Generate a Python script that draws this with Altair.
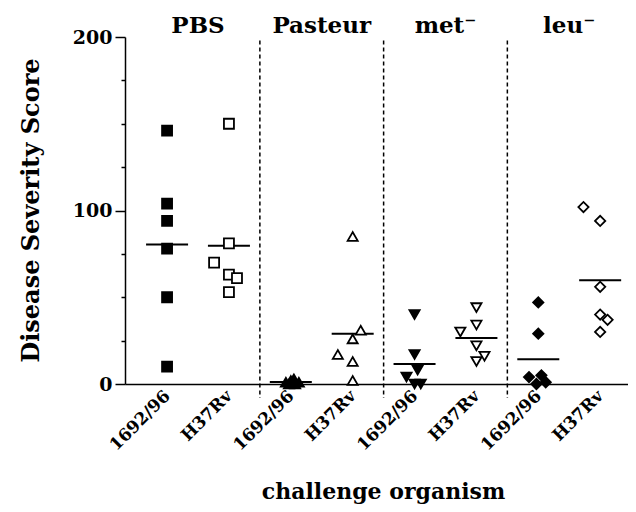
import json
import altair as alt
import pandas as pd

# ---- data ----
groups = ["PBS", "Pasteur", "met\u207b", "leu\u207b"]
strains = ["1692/96", "H37Rv"]

pbs_1692 = [146, 104, 94, 78, 50, 10]
pbs_h37 = [150, 81, 70, 63, 61, 53]
pas_1692 = [1, 2, 3, 1, 0, 0]
pas_h37 = [85, 31, 26, 17, 13, 2]
met_1692 = [40, 17, 8, 4, 0, 0]
met_h37 = [44, 34, 30, 22, 16, 13]
leu_1692 = [47, 29, 4, 5, 1, 0]
leu_h37 = [102, 94, 56, 40, 37, 30]

# horizontal scatter (jitter) of each point, in category units
jit_pbs_1692 = [0, 0, 0, 0, 0, 0]
jit_pbs_h37 = [0, 0, -0.24, 0, 0.13, 0]
jit_pas_1692 = [-0.08, 0, 0.05, 0.13, -0.03, 0.07]
jit_pas_h37 = [0, 0.13, 0, -0.24, 0, 0]
jit_met_1692 = [0, 0, 0.05, -0.13, 0, 0.1]
jit_met_h37 = [0, 0, -0.26, 0, 0.13, 0]
jit_leu_1692 = [0, 0, -0.15, 0.05, 0.12, -0.03]
jit_leu_h37 = [-0.27, 0, 0, 0, 0.12, 0]

series = [
    (pbs_1692, jit_pbs_1692), (pbs_h37, jit_pbs_h37),
    (pas_1692, jit_pas_1692), (pas_h37, jit_pas_h37),
    (met_1692, jit_met_1692), (met_h37, jit_met_h37),
    (leu_1692, jit_leu_1692), (leu_h37, jit_leu_h37),
]

rows = []
for col, (vals, jit) in enumerate(series):
    g = groups[col // 2]
    s = strains[col % 2]
    for v, j in zip(vals, jit):
        rows.append({"col": col, "pos": col + j, "group": g, "strain": s, "value": v})
df = pd.DataFrame(rows)

sep_df = pd.DataFrame({"sep": [1.5, 3.5, 5.5]})
title_df = pd.DataFrame({"center": [0.5, 2.5, 4.5, 6.5], "label": groups})

FONT = "DejaVu Serif"

xscale = alt.Scale(domain=[-0.68, 7.45], nice=False, zero=False)
yscale = alt.Scale(domain=[0, 200], nice=False)

label_expr = f"{json.dumps(strains)}[datum.value % 2]"

x_axis = alt.Axis(
    values=list(range(8)), labelExpr=label_expr, labelAngle=-45,
    labelAlign="right", labelBaseline="middle", labelPadding=9,
    labelOverlap=False, labelBound=False, labelFlush=False,
    ticks=False, grid=False, domainColor="black", domainWidth=1.5,
    labelFont=FONT, labelFontWeight="bold", labelFontSize=17, labelColor="black",
    title="challenge organism", titleFont=FONT, titleFontWeight="bold",
    titleFontSize=22, titleColor="black", titleX=258, titleY=114,
    titleBaseline="alphabetic", titleAnchor="middle",
)
y_axis = alt.Axis(
    values=[0, 25, 50, 75, 100, 125, 150, 175, 200],
    labelExpr="datum.value % 100 === 0 ? datum.label : ''",
    tickSize={"condition": {"test": "datum.value % 100 === 0", "value": 10}, "value": 4},
    tickWidth=1.5, tickColor="black",
    grid=False, domainColor="black", domainWidth=1.5, labelPadding=3,
    labelFont=FONT, labelFontWeight="bold", labelFontSize=19, labelColor="black",
    title="Disease Severity Score", titleFont=FONT, titleFontWeight="bold",
    titleFontSize=24, titleColor="black", titleX=-82, titleY=173,
    titleAnchor="middle",
)

base = alt.Chart(df)

points = base.mark_point(filled=False, stroke="black", strokeWidth=1.8, opacity=1).encode(
    x=alt.X("pos:Q", scale=xscale, axis=x_axis),
    y=alt.Y("value:Q", scale=yscale, axis=y_axis),
    shape=alt.Shape("group:N", scale=alt.Scale(domain=groups,
                    range=["square", "triangle-up", "triangle-down", "diamond"]), legend=None),
    fill=alt.Fill("strain:N", scale=alt.Scale(domain=strains, range=["black", "white"]), legend=None),
    size=alt.Size("group:N", scale=alt.Scale(domain=groups, range=[100, 105, 105, 95]), legend=None),
)

means = base.mark_tick(orient="horizontal", color="black", size=42, thickness=2, opacity=1).transform_aggregate(
    mean_value="mean(value)", groupby=["col"]
).encode(
    x=alt.X("col:Q", scale=xscale),
    y=alt.Y("mean_value:Q", scale=yscale),
)

seps = alt.Chart(sep_df).mark_rule(color="black", strokeWidth=1.5, strokeDash=[4, 3]).encode(
    x=alt.X("sep:Q", scale=xscale),
    y=alt.datum(198),
    y2=alt.datum(-8),
)

titles = alt.Chart(title_df).mark_text(
    font=FONT, fontWeight="bold", fontSize=23, color="black", align="center", baseline="alphabetic"
).encode(
    x=alt.X("center:Q", scale=xscale),
    y=alt.datum(202.3),
    text="label:N",
)

chart = alt.layer(seps, means, points, titles).properties(
    width=503, height=347,
    autosize=alt.AutoSizeParams(type="none"),
    padding={"left": 117, "top": 29, "right": 0, "bottom": 120},
    background="white",
).configure_view(stroke=None)

chart.save("out.html", embed_options={"renderer": "svg", "actions": False})
